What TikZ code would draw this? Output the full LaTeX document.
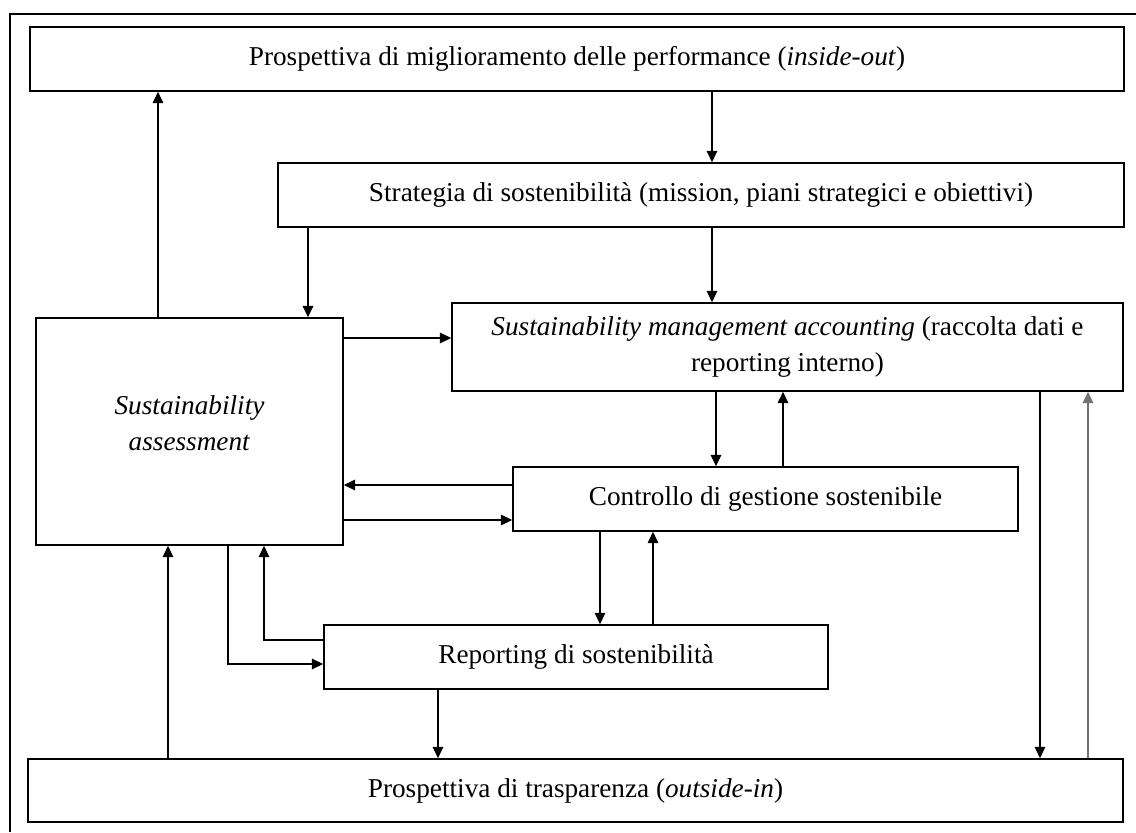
\documentclass[tikz,border=0pt]{standalone}
\usepackage{fontspec}
\setmainfont{Liberation Serif}
\usetikzlibrary{arrows.meta}

\begin{document}
\begin{tikzpicture}[x=0.02cm, y=-0.02cm,
    font=\fontsize{15.5}{21}\selectfont,
    box/.style={draw, line width=0.9pt, inner sep=0pt, align=center},
    arr/.style={line width=0.9pt, -{Triangle[length=6.5pt,width=6pt]}}]
        \useasboundingbox (0,0) rectangle (1136,832);
        \draw[line width=1.5pt] (10,832) -- (10,14) -- (1136,14);
        % boxes
        \node[box, minimum width=21.88cm, minimum height=1.28cm] (persp) at (577,59)
            {Prospettiva di miglioramento delle performance (\textit{inside-out})};
        \node[box, minimum width=16.92cm, minimum height=1.28cm] (strat) at (701,195)
            {Strategia di sostenibilità (mission, piani strategici e obiettivi)};
        \node[box, minimum width=6.14cm, minimum height=4.54cm] (assess) at (189.5,431.5)
            {\textit{Sustainability}\\\textit{assessment}\\[-0.4cm]};
        \node[box, minimum width=13.42cm, minimum height=1.76cm] (sma) at (787.5,347)
            {\textit{Sustainability management accounting} (raccolta dati e\\reporting interno)};
        \node[box, minimum width=10.1cm, minimum height=1.28cm] (ctrl) at (765.5,499)
            {Controllo di gestione sostenibile};
        \node[box, minimum width=10.08cm, minimum height=1.28cm] (report) at (576,657)
            {Reporting di sostenibilità};
        \node[box, minimum width=21.9cm, minimum height=1.26cm] (transp) at (575.5,790.5)
            {Prospettiva di trasparenza (\textit{outside-in})};
        % connectors
        \draw[arr] (assess.north -| 158,0) -- (persp.south -| 158,0);
        \draw[arr] (persp.south -| 712,0) -- (strat.north -| 712,0);
        \draw[arr] (strat.south -| 308,0) -- (assess.north -| 308,0);
        \draw[arr] (strat.south -| 712,0) -- (sma.north -| 712,0);
        \draw[arr] (assess.east |- 0,338) -- (sma.west |- 0,338);
        \draw[arr] (sma.south -| 716,0) -- (ctrl.north -| 716,0);
        \draw[arr] (ctrl.north -| 783,0) -- (sma.south -| 783,0);
        \draw[arr] (ctrl.west |- 0,485) -- (assess.east |- 0,485);
        \draw[arr] (assess.east |- 0,520) -- (ctrl.west |- 0,520);
        \draw[arr] (ctrl.south -| 600,0) -- (report.north -| 600,0);
        \draw[arr] (report.north -| 653,0) -- (ctrl.south -| 653,0);
        \draw[arr] (report.west |- 0,640) -| (assess.south -| 264,0);
        \draw[arr] (assess.south -| 228,0) |- (report.west |- 0,664);
        \draw[arr] (report.south -| 438,0) -- (transp.north -| 438,0);
        \draw[arr] (transp.north -| 168,0) -- (assess.south -| 168,0);
        \draw[arr] (sma.south -| 1040,0) -- (transp.north -| 1040,0);
        \draw[arr, draw=black!55] (transp.north -| 1088,0) -- (sma.south -| 1088,0);
\end{tikzpicture}
\end{document}
